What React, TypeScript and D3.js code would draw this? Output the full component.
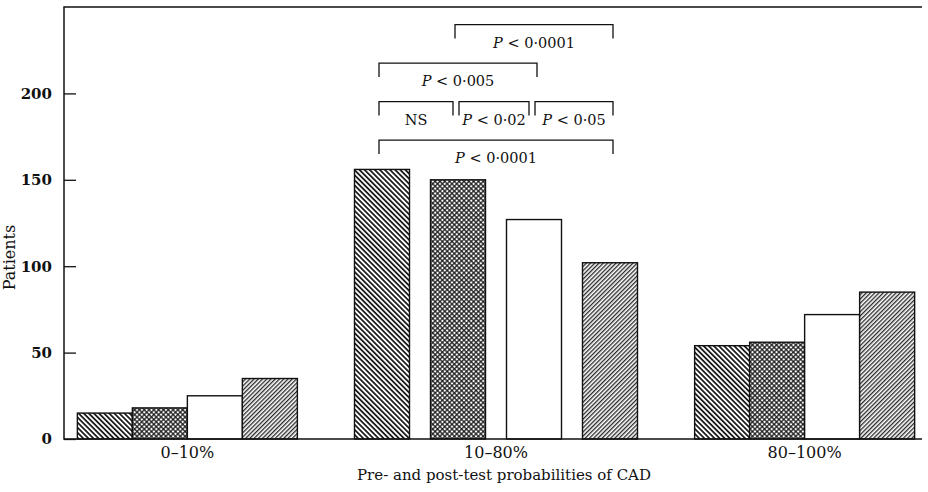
import React, { useEffect, useRef } from 'react';
import * as d3 from 'd3';

// probability bands on the x axis
const groups = ['0–10%', '10–80%', '80–100%'];

// four bars per band
const series1 = [15, 156, 54];
const series2 = [18, 150, 56];
const series3 = [25, 127, 72];
const series4 = [35, 102, 85];
const seriesValues = [series1, series2, series3, series4];
const seriesFills = ['url(#hatchBack)', 'url(#crossHatch)', '#fff', 'url(#hatchFwd)'];

const yTicks = [0, 50, 100, 150, 200];

// significance brackets over the middle band (bar index from/to, stacking level)
const comparisonFrom = [0, 0, 1, 2, 0, 1];
const comparisonTo = [3, 1, 2, 3, 2, 3];
const comparisonLevel = [0, 1, 1, 1, 2, 3];
const comparisonLabel = ['0·0001', null, '0·02', '0·05', '0·005', '0·0001'];

const settings = {
  width: 928,
  height: 492,
  margin: { top: 7, right: 6, bottom: 53, left: 64 },
  barWidth: 55,
  groupGap: [0, 21, 0],
  font: '"DejaVu Serif", serif'
};

const YAxis = ({ scale }: { scale: d3.ScaleLinear<number, number> }) => {
  const ref = useRef<SVGGElement>(null);
  useEffect(() => {
    const axis = d3.axisLeft(scale)
      .tickValues(yTicks)
      .tickSizeInner(-12)
      .tickSizeOuter(0)
      .tickPadding(12)
      .tickFormat(d3.format('d'));
    const g = d3.select(ref.current!);
    g.call(axis);
    g.select('.domain').remove();
    g.selectAll('line').attr('stroke', '#111').attr('stroke-width', 1.3);
    g.selectAll('text')
      .attr('font-family', settings.font)
      .attr('font-size', 15)
      .attr('font-weight', 'bold')
      .attr('fill', '#111');
  }, [scale]);
  return <g ref={ref} transform={`translate(${settings.margin.left},0)`} />;
};

export default function App() {
  const { width, height, margin, barWidth, groupGap, font } = settings;
  const left = margin.left;
  const right = width - margin.right;
  const top = margin.top;
  const bottom = height - margin.bottom;

  const y = d3.scaleLinear().domain([0, 250]).range([bottom, top]);
  const x = d3.scalePoint<string>().domain(groups).range([left + 3, width - 3]).padding(0.39);

  const barX = (g: number, s: number) => {
    const gap = groupGap[g];
    const total = seriesValues.length * barWidth + (seriesValues.length - 1) * gap;
    return x(groups[g])! - total / 2 + s * (barWidth + gap);
  };
  const barCenter = (g: number, s: number) => barX(g, s) + barWidth / 2;

  const bracketY = (level: number) => y(173) - level * 38.5;

  return (
    <svg width={width} height={height} style={{ position: 'absolute', left: 0, top: 0, background: '#fff' }}>
      <defs>
        <pattern id="hatchBack" patternUnits="userSpaceOnUse" width="3.6" height="3.6" patternTransform="rotate(-45)">
          <rect width="3.6" height="3.6" fill="#fff" />
          <line x1="0.9" y1="0" x2="0.9" y2="3.6" stroke="#111" strokeWidth="1.7" />
        </pattern>
        <pattern id="hatchFwd" patternUnits="userSpaceOnUse" width="3" height="3" patternTransform="rotate(45)">
          <rect width="3" height="3" fill="#fff" />
          <line x1="0.7" y1="0" x2="0.7" y2="3" stroke="#111" strokeWidth="1.2" />
        </pattern>
        <pattern id="crossHatch" patternUnits="userSpaceOnUse" width="3.4" height="3.4" patternTransform="rotate(45)">
          <rect width="3.4" height="3.4" fill="#fff" />
          <line x1="0.8" y1="0" x2="0.8" y2="3.4" stroke="#111" strokeWidth="1.2" />
          <line x1="0" y1="0.8" x2="3.4" y2="0.8" stroke="#111" strokeWidth="1.2" />
        </pattern>
      </defs>

      <g>
        {groups.map((g, gi) =>
          seriesValues.map((vals, si) => (
            <rect
              key={`${gi}-${si}`}
              x={barX(gi, si)}
              y={y(vals[gi])}
              width={barWidth}
              height={y(0) - y(vals[gi])}
              fill={seriesFills[si]}
              stroke="#111"
              strokeWidth={1.4}
            />
          ))
        )}
      </g>

      {/* frame: left, top and baseline */}
      <path d={`M${right},${top}H${left}V${bottom}H${right}`} fill="none" stroke="#111" strokeWidth={1.5} />

      <YAxis scale={y} />

      {groups.map((g) => (
        <text key={g} x={x(g)} y={bottom + 19} textAnchor="middle" fontFamily={font} fontSize={16} fill="#111">{g}</text>
      ))}
      <text x={x(groups[1])! + 8} y={bottom + 41} textAnchor="middle" fontFamily={font} fontSize={15} fill="#111">
        Pre- and post-test probabilities of CAD
      </text>
      <text transform={`translate(15,${y(105)}) rotate(-90)`} textAnchor="middle" fontFamily={font} fontSize={16} fill="#111">
        Patients
      </text>

      <g>
        {comparisonFrom.map((from, i) => {
          const level = comparisonLevel[i];
          const inset = level === 1 ? 4 : 0;
          const x1 = barCenter(1, from) - 3 + (level === 1 && from > 0 ? inset : 0);
          const x2 = barCenter(1, comparisonTo[i]) + 3 - (level === 1 && comparisonTo[i] < 3 ? inset + 4 : 0);
          const by = bracketY(level);
          const label = comparisonLabel[i];
          return (
            <g key={i}>
              <path d={`M${x1},${by + 14}V${by}H${x2}V${by + 14}`} fill="none" stroke="#111" strokeWidth={1.3} />
              <text x={(x1 + x2) / 2} y={by + 23} textAnchor="middle" fontFamily={font} fontSize={14.5} fill="#111">
                {label === null ? 'NS' : (
                  <>
                    <tspan fontStyle="italic">P</tspan>
                    {` < ${label}`}
                  </>
                )}
              </text>
            </g>
          );
        })}
      </g>
    </svg>
  );
}
